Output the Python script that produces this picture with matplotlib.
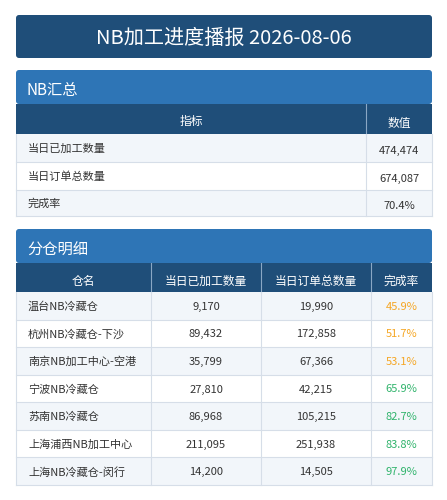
import matplotlib.pyplot as plt
from matplotlib.patches import Rectangle, FancyBboxPatch

plt.rcParams['font.family'] = ['Noto Sans CJK SC', 'DejaVu Sans']

TITLE = "NB加工进度播报 2026-08-06"
summary_labels = ["当日已加工数量", "当日订单总数量", "完成率"]
summary_values = ["474,474", "674,087", "70.4%"]
headers = ["仓名", "当日已加工数量", "当日订单总数量", "完成率"]
names = ["温台NB冷藏仓", "杭州NB冷藏仓-下沙", "南京NB加工中心-空港", "宁波NB冷藏仓",
         "苏南NB冷藏仓", "上海浦西NB加工中心", "上海NB冷藏仓-闵行"]
processed = [9170, 89432, 35799, 27810, 86968, 211095, 14200]
totals = [19990, 172858, 67366, 42215, 105215, 251938, 14505]
rates = [45.9, 51.7, 53.1, 65.9, 82.7, 83.8, 97.9]

DARK = "#1f4e79"
MID = "#2e75b6"
ALT = "#f2f6fa"
LINE = "#d6dee8"
TXT = "#333333"

fig = plt.figure(figsize=(4.47, 5.0), dpi=100)
ax = fig.add_axes([0, 0, 1, 1])
ax.set_xlim(0, 447)
ax.set_ylim(500, 0)
ax.axis("off")

L, R = 16, 432

def box(x0, y0, x1, y1, color, ec="none", lw=0):
    ax.add_patch(Rectangle((x0, y0), x1 - x0, y1 - y0, facecolor=color, edgecolor=ec, lw=lw))

# title
ax.add_patch(FancyBboxPatch((L, 15), R - L, 43, boxstyle="round,pad=0,rounding_size=3",
                            facecolor=DARK, edgecolor="none"))
ax.text((L + R) / 2, 38, TITLE, color="white", fontsize=14.5, ha="center", va="center")

# summary section
ax.add_patch(FancyBboxPatch((L, 70), R - L, 34, boxstyle="round,pad=0,rounding_size=3",
                            facecolor=MID, edgecolor="none"))
ax.text(27, 91, "NB汇总", color="white", fontsize=11, va="center")
box(L, 104, R, 134, DARK)
ax.plot([366, 366], [104, 134], color="#8aa7c4", lw=0.8)
ax.text(191, 121, "指标", color="white", fontsize=8.5, ha="center", va="center")
ax.text(399, 123, "数值", color="white", fontsize=8.5, ha="center", va="center")
srows = [134, 162, 190, 216]
for i, (lab, val) in enumerate(zip(summary_labels, summary_values)):
    y0, y1 = srows[i], srows[i + 1]
    box(L, y0, R, y1, ALT if i % 2 == 0 else "white")
    ax.plot([L, R], [y1, y1], color=LINE, lw=0.8)
    ax.text(28, (y0 + y1) / 2 + 1, lab, color=TXT, fontsize=8, va="center")
    ax.text(399, (y0 + y1) / 2 + 3, val, color=TXT, fontsize=8, ha="center", va="center")
ax.plot([366, 366], [134, 216], color=LINE, lw=0.8)
ax.plot([L, L], [134, 216], color=LINE, lw=0.8)
ax.plot([R, R], [134, 216], color=LINE, lw=0.8)

# detail section
ax.add_patch(FancyBboxPatch((L, 229), R - L, 34, boxstyle="round,pad=0,rounding_size=3",
                            facecolor=MID, edgecolor="none"))
ax.text(27, 250, "分仓明细", color="white", fontsize=11, va="center")
cols = [L, 151, 261, 371, R]
box(L, 263, R, 292, DARK)
for i, h in enumerate(headers):
    ax.text((cols[i] + cols[i + 1]) / 2, 281, h, color="white", fontsize=8.5, ha="center", va="center")
for c in cols[1:-1]:
    ax.plot([c, c], [263, 292], color="#8aa7c4", lw=0.8)
rh = (485 - 292) / len(names)
for i in range(len(names)):
    y0 = 292 + i * rh
    y1 = y0 + rh
    yc = (y0 + y1) / 2 + 1
    box(L, y0, R, y1, ALT if i % 2 == 0 else "white")
    ax.plot([L, R], [y1, y1], color=LINE, lw=0.8)
    ax.text(28, yc, names[i], color=TXT, fontsize=8, va="center")
    ax.text((cols[1] + cols[2]) / 2, yc, f"{processed[i]:,}", color=TXT, fontsize=8, ha="center", va="center")
    ax.text((cols[2] + cols[3]) / 2, yc, f"{totals[i]:,}", color=TXT, fontsize=8, ha="center", va="center")
    color = "#f5a623" if rates[i] < 60 else "#2fb36b"
    ax.text((cols[3] + cols[4]) / 2, yc, f"{rates[i]:.1f}%", color=color, fontsize=8, ha="center", va="center")
for c in cols:
    ax.plot([c, c], [292, 485], color=LINE, lw=0.8)

fig.savefig("out.png", dpi=100)
